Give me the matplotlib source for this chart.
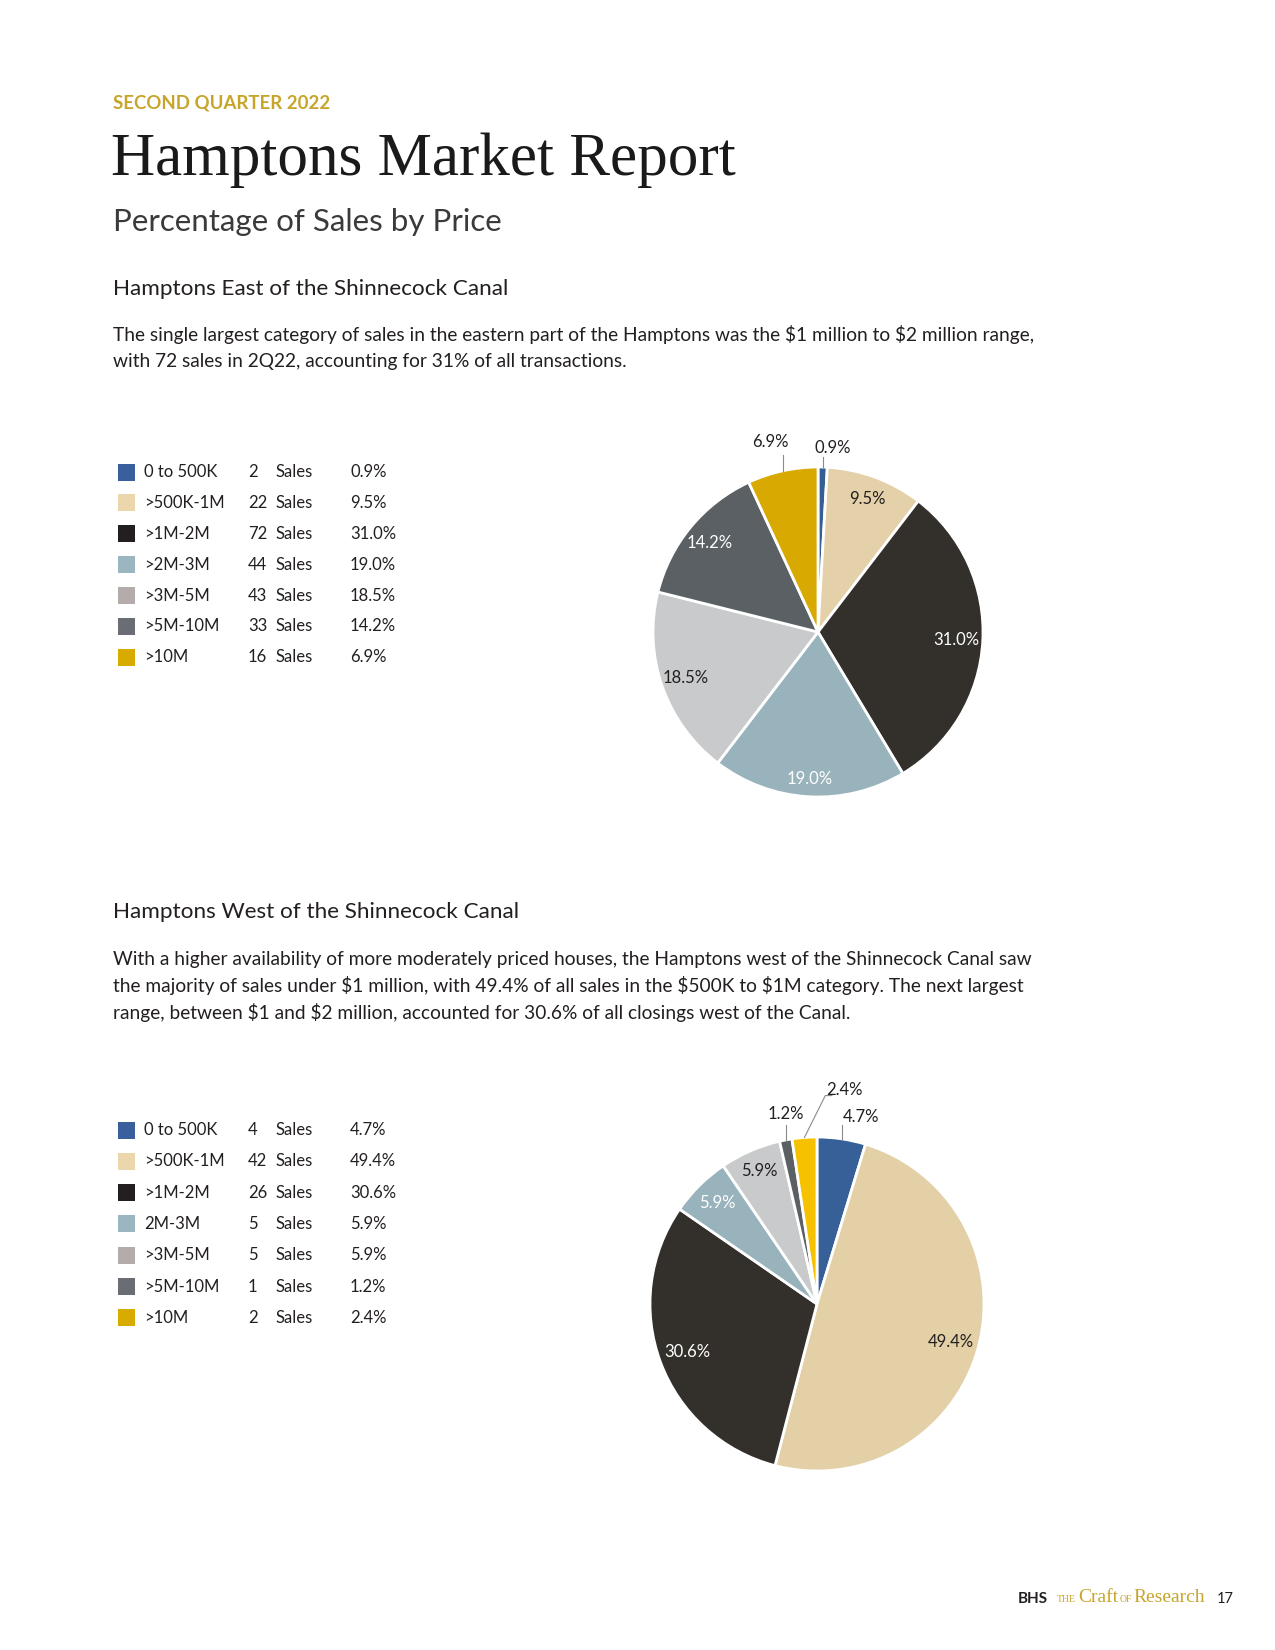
import numpy as np
import matplotlib
matplotlib.use("Agg")
import matplotlib.pyplot as plt

# ---------------- data ----------------
categories_east = ["0 to 500K", ">500K-1M", ">1M-2M", ">2M-3M", ">3M-5M", ">5M-10M", ">10M"]
sales_east = [2, 22, 72, 44, 43, 33, 16]
pct_east = [0.9, 9.5, 31.0, 19.0, 18.5, 14.2, 6.9]

categories_west = ["0 to 500K", ">500K-1M", ">1M-2M", "2M-3M", ">3M-5M", ">5M-10M", ">10M"]
sales_west = [4, 42, 26, 5, 5, 1, 2]
pct_west = [4.7, 49.4, 30.6, 5.9, 5.9, 1.2, 2.4]

title_kicker = "SECOND QUARTER 2022"
title_main = "Hamptons Market Report"
title_sub = "Percentage of Sales by Price"
east_header = "Hamptons East of the Shinnecock Canal"
east_text = [
    "The single largest category of sales in the eastern part of the Hamptons was the $1 million to $2 million range,",
    "with 72 sales in 2Q22, accounting for 31% of all transactions.",
]
west_header = "Hamptons West of the Shinnecock Canal"
west_text = [
    "With a higher availability of more moderately priced houses, the Hamptons west of the Shinnecock Canal saw",
    "the majority of sales under $1 million, with 49.4% of all sales in the $500K to $1M category. The next largest",
    "range, between $1 and $2 million, accounted for 30.6% of all closings west of the Canal.",
]

# ---------------- styles ----------------
W, H = 1275, 1650
pie_colors_east = ["#355e94", "#e4d1a9", "#33302c", "#99b3bc", "#c8cacb", "#5a6064", "#d8a900"]
pie_colors_west = ["#366097", "#e3d0a7", "#33302c", "#99b3bc", "#c8cacb", "#5a6064", "#f6c200"]
legend_colors = ["#3a5f9d", "#ecd6ab", "#231f20", "#9bb6c1", "#b3acab", "#6a6d74", "#d8ab00"]
GOLD = "#c8a52a"
TXT = "#231f20"
SANS = ["Lato", "DejaVu Sans"]
SERIF = ["Liberation Serif", "DejaVu Serif"]

# label layout per wedge: ("in", color, dist) or ("out", line_end_dx, line_end_y, text_dx, text_y)
east_label_style = [
    ("out", 0.0, 1.061, 0.064, 1.117),
    ("in", TXT, 0.86), ("in", "white", 0.84), ("in", "white", 0.89), ("in", TXT, 0.85), ("in", "white", 0.85),
    ("out", 0.0, 1.074, -0.073, 1.153),
]
west_label_style = [
    ("out", 0.0, 1.073, 0.119, 1.121),
    ("in", TXT, 0.83), ("in", "white", 0.83), ("in", "white", 0.85), ("in", TXT, 0.87),
    ("out", 0.0, 1.073, -0.002, 1.139),
    ("out2", 0.125, 1.248, 0.240, 1.279),
]

fig = plt.figure(figsize=(W / 100, H / 100), dpi=100)
fig.patch.set_facecolor("white")


def P(x, y):
    return x / W, 1 - y / H


def ftext(x, y, s, **kw):
    fig.text(*P(x, y), s, parse_math=False, **kw)


# header texts
ftext(113, 103, title_kicker, fontsize=13.4, color=GOLD, family=SANS, fontweight="bold", va="center")
ftext(111, 175, title_main, fontsize=44, color="#1a1a1a", family=SERIF, va="baseline")
ftext(113, 222, title_sub, fontsize=22.5, color="#3a3a3a", family=SANS, fontweight="normal", va="center")


def section(header_y, header, lines, line_y0, line_gap):
    ftext(113, header_y, header, fontsize=16.2, color=TXT, family=SANS, va="center")
    for i, ln in enumerate(lines):
        ftext(113, line_y0 + i * line_gap, ln, fontsize=13.8, color=TXT, family=SANS, va="center")


section(289, east_header, east_text, 335, 26.5)
section(912, west_header, west_text, 959, 26.6)


def legend(y0, gap, cats, sales, pcts):
    for i, (c, s, p) in enumerate(zip(cats, sales, pcts)):
        y = y0 + i * gap
        sq = plt.Rectangle(P(118, y + 8.5), 17 / W, 17 / H, transform=fig.transFigure,
                           facecolor=legend_colors[i], edgecolor="none")
        fig.add_artist(sq)
        kw = dict(fontsize=12, color=TXT, family=SANS, va="center")
        ftext(144, y, c, **kw)
        ftext(248, y, f"{s}", **kw)
        ftext(275, y, "Sales", **kw)
        ftext(350, y, f"{p:.1f}%", **kw)


legend(472, 30.9, categories_east, sales_east, pct_east)
legend(1130, 31.3, categories_west, sales_west, pct_west)


def pie(cx, cy, r, values, colors, styles):
    k = 1.45
    size = 2 * r * k
    ax = fig.add_axes([(cx - size / 2) / W, 1 - (cy + size / 2) / H, size / W, size / H])
    wedges, _ = ax.pie(values, colors=colors, startangle=90, counterclock=False,
                       wedgeprops=dict(edgecolor="white", linewidth=2.0))
    ax.set_xlim(-k, k)
    ax.set_ylim(-k, k)
    ax.set_aspect("equal")
    ax.axis("off")
    for w, v, st in zip(wedges, values, styles):
        ang = np.deg2rad((w.theta1 + w.theta2) / 2)
        lab = f"{v:.1f}%"
        if st[0] == "in":
            d = st[2]
            ax.text(d * np.cos(ang), d * np.sin(ang), lab, ha="center", va="center",
                    fontsize=12, color=st[1], family=SANS)
        else:
            ex, ey = np.cos(ang), np.sin(ang)
            _, ldx, ly, tdx, ty = st
            lx = ex + ldx
            if st[0] == "out2":
                ax.plot([ex, lx, lx + 0.04], [ey, ly, ly], color="#8a8a8a", lw=0.8, clip_on=False)
            else:
                ax.plot([ex, lx], [ey, ly], color="#8a8a8a", lw=0.8, clip_on=False)
            ax.text(ex + tdx, ty, lab, ha="center", va="center", fontsize=12,
                    color=TXT, family=SANS)


pie(818, 632, 165, pct_east, pie_colors_east, east_label_style)
pie(817, 1304, 167, pct_west, pie_colors_west, west_label_style)

# footer
ftext(1018, 1599, "BHS", fontsize=11, color=TXT, family=SANS, fontweight="bold", va="center")
ftext(1057, 1600, "THE", fontsize=7, color=GOLD, family=SERIF, va="center")
ftext(1078, 1598, "Craft", fontsize=14, color=GOLD, family=SERIF, va="center")
ftext(1120, 1600, "OF", fontsize=7, color=GOLD, family=SERIF, va="center")
ftext(1133, 1598, "Research", fontsize=14, color=GOLD, family=SERIF, va="center")
ftext(1217, 1599, "17", fontsize=10.5, color=TXT, family=SANS, va="center")

fig.savefig("out.png", dpi=100, facecolor="white")
